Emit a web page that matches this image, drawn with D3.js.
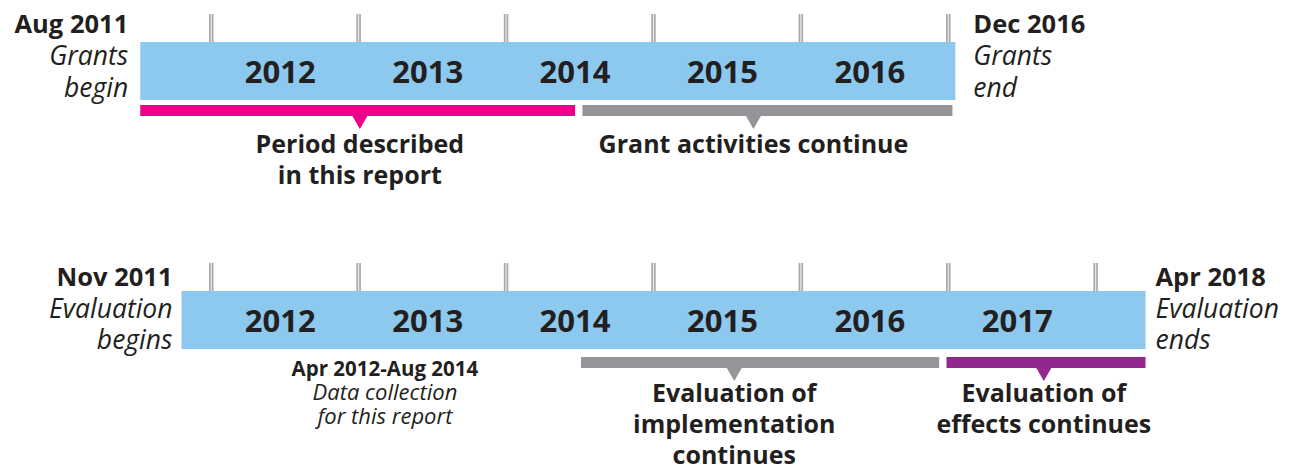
<!DOCTYPE html>
<html>
<head>
<meta charset="utf-8">
<script src="https://cdn.jsdelivr.net/npm/d3@7"></script>
<style>
  body { margin: 0; background: #fff; }
  svg { display: block; font-family: "Open Sans", "Noto Sans", sans-serif; }
</style>
</head>
<body>
<script>
// year positions are decimal years
var topYears = [2012, 2013, 2014, 2015, 2016];
var bottomYears = [2012, 2013, 2014, 2015, 2016, 2017];
var topTicks = [2012, 2013, 2014, 2015, 2016, 2017];
var bottomTicks = [2012, 2013, 2014, 2015, 2016, 2017, 2018];
var topSpan = [2011.52, 2017.05];      // Aug 2011 - Dec 2016
var bottomSpan = [2011.80, 2018.34];   // Nov 2011 - Apr 2018

var topStart = ["Aug 2011", "Grants", "begin"];
var topEnd = ["Dec 2016", "Grants", "end"];
var bottomStart = ["Nov 2011", "Evaluation", "begins"];
var bottomEnd = ["Apr 2018", "Evaluation", "ends"];

var topPhases = [
  { name: "report", from: 2011.52, to: 2014.47, at: 2013.01, lines: ["Period described", "in this report"] },
  { name: "grant", from: 2014.52, to: 2017.03, at: 2015.68, lines: ["Grant activities continue"] }
];
var bottomPhases = [
  { name: "implementation", from: 2014.51, to: 2016.94, at: 2015.55, lines: ["Evaluation of", "implementation", "continues"] },
  { name: "effects", from: 2016.99, to: 2018.34, at: 2017.65, lines: ["Evaluation of", "effects continues"] }
];
var dataNote = { at: 2013.18, lines: ["Apr 2012-Aug 2014", "Data collection", "for this report"] };

var phaseColor = {
  report: "#ec008c",
  grant: "#939598",
  implementation: "#939598",
  effects: "#92278f"
};

var W = 1297, H = 471;
var ink = "#231f20";

var svg = d3.select("body").append("svg")
    .attr("width", W)
    .attr("height", H);

var x = d3.scaleLinear().domain([2012, 2017]).range([211, 948]);

function drawTimeline(cfg) {
  var g = svg.append("g").attr("transform", "translate(0," + cfg.y + ")");

  // year ticks (double thin lines)
  var tk = g.selectAll(".tick").data(cfg.ticks).enter().append("g")
      .attr("class", "tick")
      .attr("transform", function(d) { return "translate(" + (x(d) - 2) + ",0)"; });
  tk.append("rect").attr("x", 0).attr("y", -28).attr("width", 4.5).attr("height", 28).attr("fill", "#a7a9ac");
  tk.append("rect").attr("x", 1.7).attr("y", -28).attr("width", 1.1).attr("height", 28).attr("fill", "#eeeeef");

  // main bar
  g.append("rect")
      .attr("x", x(cfg.span[0]))
      .attr("y", 0)
      .attr("width", x(cfg.span[1]) - x(cfg.span[0]))
      .attr("height", 58)
      .attr("fill", "#8dc8ee");

  g.selectAll(".year").data(cfg.years).enter().append("text")
      .attr("class", "year")
      .attr("x", function(d) { return x(d + 0.47); })
      .attr("y", 41)
      .attr("text-anchor", "middle")
      .attr("font-size", 31)
      .attr("font-weight", 700)
      .attr("fill", ink)
      .text(function(d) { return d; });

  // phases under the bar
  var ph = g.selectAll(".phase").data(cfg.phases).enter().append("g").attr("class", "phase");
  ph.append("rect")
      .attr("x", function(d) { return x(d.from); })
      .attr("y", cfg.phaseY)
      .attr("width", function(d) { return x(d.to) - x(d.from); })
      .attr("height", 11)
      .attr("fill", function(d) { return phaseColor[d.name]; });
  ph.append("path")
      .attr("d", function(d) {
        var cx = x(d.at), y0 = cfg.phaseY + 11;
        return "M" + (cx - 7.5) + "," + y0 + "L" + (cx + 7.5) + "," + y0 + "L" + cx + "," + (y0 + 13) + "Z";
      })
      .attr("fill", function(d) { return phaseColor[d.name]; });
  ph.append("text")
      .attr("text-anchor", "middle")
      .attr("font-size", 25)
      .attr("font-weight", 700)
      .attr("fill", ink)
      .selectAll("tspan").data(function(d) { return d.lines.map(function(l) { return { t: l, at: d.at }; }); })
      .enter().append("tspan")
      .attr("x", function(d) { return x(d.at); })
      .attr("y", function(d, i) { return 111 + i * 31; })
      .text(function(d) { return d.t; });

  // start / end labels
  function endLabel(lines, xx, anchor) {
    var t = g.append("text").attr("text-anchor", anchor).attr("fill", ink);
    t.selectAll("tspan").data(lines).enter().append("tspan")
        .attr("x", xx)
        .attr("y", function(d, i) { return cfg.labelY + i * cfg.lineH; })
        .attr("font-size", function(d, i) { return i === 0 ? 25.5 : 26.5; })
        .attr("font-weight", function(d, i) { return i === 0 ? 700 : 400; })
        .attr("font-style", function(d, i) { return i === 0 ? "normal" : "italic"; })
        .text(function(d) { return d; });
  }
  endLabel(cfg.start, x(cfg.span[0]) - cfg.gapL, "end");
  endLabel(cfg.end, x(cfg.span[1]) + cfg.gapR, "start");
  return g;
}

drawTimeline({
  y: 42, ticks: topTicks, years: topYears, span: topSpan, phases: topPhases,
  phaseY: 63, labelY: -9, lineH: 32, gapL: 12, gapR: 18, start: topStart, end: topEnd
});

var gb = drawTimeline({
  y: 291, ticks: bottomTicks, years: bottomYears, span: bottomSpan, phases: bottomPhases,
  phaseY: 66, labelY: -5, lineH: 31.5, gapL: 9, gapR: 10, start: bottomStart, end: bottomEnd
});

// data collection note
var note = gb.append("text")
    .attr("text-anchor", "middle")
    .attr("fill", ink);
note.selectAll("tspan").data(dataNote.lines).enter().append("tspan")
    .attr("x", x(dataNote.at))
    .attr("y", function(d, i) { return 85 + i * 24; })
    .attr("font-size", function(d, i) { return i === 0 ? 20.5 : 22; })
    .attr("font-weight", function(d, i) { return i === 0 ? 700 : 400; })
    .attr("font-style", function(d, i) { return i === 0 ? "normal" : "italic"; })
    .text(function(d) { return d; });
</script>
</body>
</html>
